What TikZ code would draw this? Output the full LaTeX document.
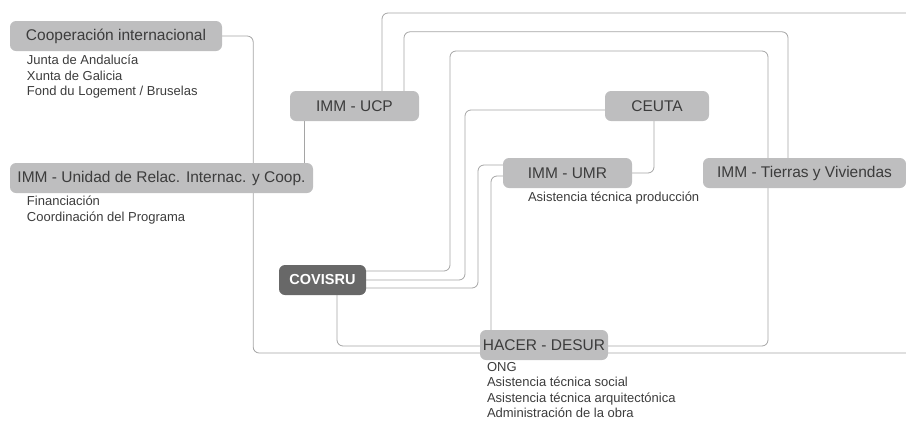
\documentclass[tikz,border=0pt]{standalone}
\usepackage{fontspec}
\setmainfont{Liberation Sans}
\usetikzlibrary{positioning,calc,backgrounds}
\definecolor{boxgray}{RGB}{190,190,191}
\definecolor{darkbox}{RGB}{104,104,104}
\definecolor{linegray}{RGB}{165,165,165}
\definecolor{txtgray}{RGB}{60,60,60}

\begin{document}
\begin{tikzpicture}[x=1pt, y=-1pt,
    every node/.style={text=txtgray},
    actor/.style={fill=boxgray, rounded corners=6pt, minimum height=30pt, inner sep=0pt, font=\fontsize{15.5}{18}\selectfont},
    lead/.style={actor, fill=darkbox, text=white, font=\fontsize{14.5}{17}\selectfont\bfseries},
    notes/.style={align=left, inner sep=0pt, font=\fontsize{13}{15.5}\selectfont},
    link/.style={draw=linegray, line width=0.8pt, rounded corners=6pt}
    ]
\useasboundingbox (0,0) rectangle (906,424);
% actors
\node[actor, minimum width=212pt] (coop)    at (116,36)    {Cooperación internacional};
\node[actor, minimum width=303pt] (unidad)  at (161.5,178) {IMM - Unidad de Relac. Internac. y Coop.};
\node[actor, minimum width=129pt] (ucp)     at (354.5,106) {IMM - UCP};
\node[actor, minimum width=104pt] (ceuta)   at (657,106)   {CEUTA};
\node[actor, minimum width=129pt] (umr)     at (567.5,173) {IMM - UMR};
\node[actor, minimum width=203pt] (tierras) at (804.5,173) {IMM - Tierras y Viviendas};
\node[lead,  minimum width=87pt]  (covisru) at (322.5,280) {COVISRU};
\node[actor, minimum width=128pt] (hacer)   at (544,345)   {HACER - DESUR};
% roles
\node[notes, below right=4pt and 17pt of coop.south west] (coopnotes)
    {Junta de Andalucía\\Xunta de Galicia\\Fond du Logement / Bruselas};
\node[notes, below right=3pt and 17pt of unidad.south west] (unidadnotes)
    {Financiación\\Coordinación del Programa};
\node[notes, below right=4pt and 25pt of umr.south west] (umrnotes)
    {Asistencia técnica producción};
\node[notes, below right=2pt and 7pt of hacer.south west] (hacernotes)
    {ONG\\Asistencia técnica social\\Asistencia técnica arquitectónica\\Administración de la obra};
\coordinate (edgetop) at (906,13);
\coordinate (edgebot) at (906,353);
% connectors
\begin{scope}[on background layer]
\draw[link] (coop.east) -- ++(31,0) |- (edgebot);
\draw[link] ([xshift=-50.5pt]ucp.south) -- ([xshift=-50.5pt]ucp.south |- unidad.north);
\draw[link] ([xshift=27.5pt]ucp.north) |- (edgetop);
\draw[link] ([xshift=49.5pt]ucp.north) -- ++(0,-59) -| ([xshift=-16.5pt]tierras.north);
\draw[link] ($(covisru.east)+(0,-9)$) -| (450,51) -| (768,346) -- ($(hacer.east)+(0,1)$);
\draw[link] (covisru.east) -| (465,110) -- ($(ceuta.west)+(0,4)$);
\draw[link] ($(covisru.east)+(0,8)$) -| (478,165) -- ($(umr.west)+(0,-8)$);
\draw[link] ($(umr.west)+(0,3)$) -| ([xshift=-53pt]hacer.north);
\draw[link] ([xshift=-3pt]ceuta.south) |- (umr.east);
\draw[link] ([xshift=14.5pt]covisru.south) |- ($(hacer.west)+(0,1)$);
\end{scope}
\end{tikzpicture}
\end{document}
